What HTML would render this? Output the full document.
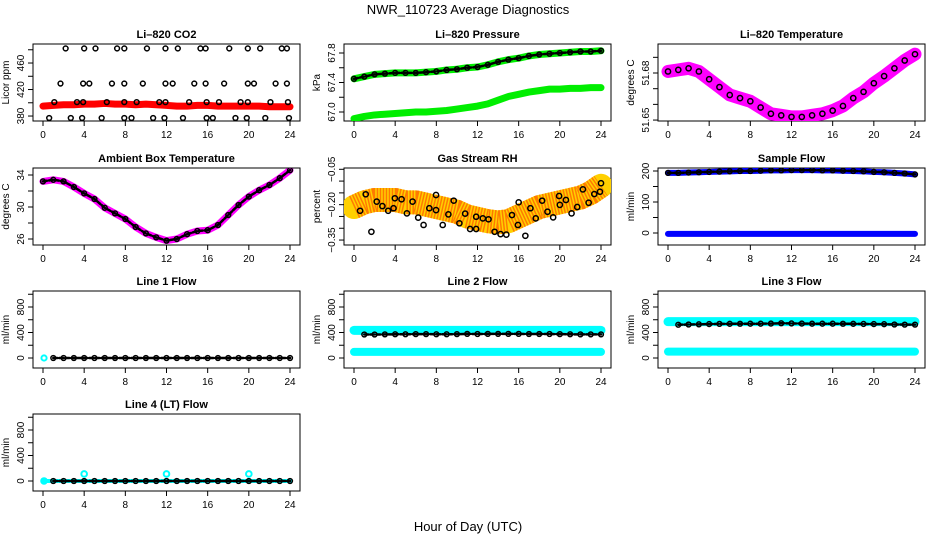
<!DOCTYPE html>
<html><head><meta charset="utf-8">
<style>
html,body{margin:0;padding:0;background:#fff;}
svg{display:block;font-family:"Liberation Sans",sans-serif;}
</style></head>
<body>
<svg id="fig" width="936" height="540" viewBox="0 0 936 540">
<text x="468" y="14" text-anchor="middle" font-size="13">NWR_110723  Average Diagnostics</text>
<text x="468" y="531" text-anchor="middle" font-size="13">Hour of Day (UTC)</text>
</svg>
<script>
const HOURS=[0,1,2,3,4,5,6,7,8,9,10,11,12,13,14,15,16,17,18,19,20,21,22,23,24];
const XTICKS=[0,4,8,12,16,20,24];
const co2Band=[395,396,397,397,398,398,399,398,398,397,398,397,396,395,395,396,396,395,395,395,395,395,394,394,394];
const co2PtHours=[2.2,4.0,5.1,7.2,7.9,10.1,11.9,13.1,15.3,15.8,18.1,19.9,21.1,23.2,23.7,
1.7,3.9,4.5,6.7,7.9,9.7,11.9,12.6,14.7,15.8,17.6,19.9,20.5,22.6,23.7,
1.1,3.3,3.9,6.2,7.9,9.1,11.3,11.9,14.2,15.9,17.1,19.2,19.9,22.1,23.8,
0.6,2.7,3.8,5.7,7.9,8.6,10.7,11.8,13.6,15.9,16.5,18.7,19.8,21.6,23.9];
const co2PtVals=[482,482,482,482,482,482,482,482,482,482,482,482,482,482,482,
429,429,429,429,429,429,429,429,429,429,429,429,429,429,429,
401,401,401,401,401,401,401,401,401,401,401,401,401,401,401,
377,377,377,377,377,377,377,377,377,377,377,377,377,377,377];
const presUpper=[67.45,67.48,67.51,67.52,67.53,67.53,67.53,67.54,67.55,67.57,67.58,67.6,67.61,67.64,67.68,67.71,67.73,67.76,67.78,67.79,67.8,67.81,67.82,67.82,67.83];
const presLower=[66.91,66.94,66.96,66.97,66.98,66.99,67.0,67.0,67.01,67.02,67.04,67.06,67.08,67.11,67.16,67.21,67.24,67.27,67.29,67.31,67.31,67.32,67.32,67.33,67.33];
const liTemp=[51.681,51.682,51.683,51.681,51.676,51.671,51.666,51.664,51.662,51.658,51.654,51.653,51.652,51.652,51.653,51.654,51.656,51.659,51.664,51.668,51.6735,51.678,51.683,51.688,51.692];
const ambTemp=[33.2,33.4,33.2,32.5,31.7,31.0,29.9,29.2,28.5,27.5,26.7,26.2,25.8,26.0,26.6,27.0,27.1,27.75,29.0,30.25,31.3,32.1,32.75,33.6,34.6];
const rhBand=[-0.21,-0.19,-0.18,-0.18,-0.18,-0.19,-0.19,-0.2,-0.21,-0.22,-0.23,-0.25,-0.26,-0.27,-0.275,-0.27,-0.25,-0.23,-0.21,-0.2,-0.19,-0.18,-0.17,-0.15,-0.12];
const rhPtHours=[1.14,0.59,1.69,2.21,2.76,3.32,3.84,3.97,4.62,5.14,5.69,6.24,6.76,7.32,7.97,7.97,8.62,9.17,9.69,10.24,10.8,11.28,11.87,11.87,12.52,13.07,13.66,14.24,14.8,15.35,15.93,16.0,16.65,17.14,17.66,18.28,18.8,19.35,19.93,20.0,20.59,21.14,21.69,22.24,22.8,23.35,23.9,24.0];
const rhPtVals=[-0.156,-0.226,-0.315,-0.187,-0.206,-0.226,-0.215,-0.173,-0.177,-0.237,-0.187,-0.255,-0.286,-0.215,-0.159,-0.223,-0.286,-0.241,-0.183,-0.279,-0.238,-0.303,-0.303,-0.251,-0.258,-0.262,-0.315,-0.325,-0.327,-0.244,-0.286,-0.19,-0.332,-0.215,-0.258,-0.183,-0.23,-0.254,-0.163,-0.201,-0.18,-0.237,-0.21,-0.135,-0.192,-0.155,-0.145,-0.109];
const sampleTop=[194,194,195,196,197,198,199,200,200,201,202,202,203,203,203,202,202,201,200,199,197,196,194,192,189];
const sampleBottom=[-3,-3,-3,-3,-3,-3,-3,-3,-3,-3,-3,-3,-3,-3,-3,-3,-3,-3,-3,-3,-3,-3,-3,-3,-3];
const line1Flow=[0,0,0,0,0,0,0,0,0,0,0,0,0,0,0,0,0,0,0,0,0,0,0,0,0];
const line2Upper=[434,434,434,434,434,434,434,434,434,434,434,434,434,434,434,434,434,434,434,434,434,434,434,434,434];
const line2Mean=[370,368,368,370,372,372,375,375,372,372,374,378,376,378,378,378,378,376,376,376,374,372,370,370,370];
const line2Lower=[95,95,95,95,95,95,95,95,95,95,95,95,95,95,95,95,95,95,95,95,95,95,95,95,95];
const line3Upper=[570,570,570,570,570,570,570,570,570,570,570,570,570,570,570,570,570,570,570,570,570,570,570,570,570];
const line3Mean=[520,522,525,528,532,535,536,537,538,538,540,545,542,540,538,538,538,537,536,534,532,530,526,524,524];
const line3Lower=[100,100,100,100,100,100,100,100,100,100,100,100,100,100,100,100,100,100,100,100,100,100,100,100,100];
const line4Flow=[0,0,0,0,0,0,0,0,0,0,0,0,0,0,0,0,0,0,0,0,0,0,0,0,0];
const line4SpikeHours=[0.1,4,12,20];
const line4SpikeVals=[0,110,110,110];

const NS='http://www.w3.org/2000/svg';
const svg=document.getElementById('fig');
const COLS=[33,344,658], ROWS=[44,168,291,414], BW=267, BH=77;
function mk(tag,attrs,parent){const e=document.createElementNS(NS,tag);for(const k in attrs)e.setAttribute(k,attrs[k]);(parent||svg).appendChild(e);return e;}

function panel(col,row,name,title,ylab,ymin,ymax,ticks,labels){
  const L=COLS[col],T=ROWS[row];
  const g=mk('g',{});
  
  
  const fx=h=>L+10+h*(247/24);
  const fy=v=>T+BH-(v-ymin)/(ymax-ymin)*BH;
  const t=mk('text',{x:L+BW/2,y:T-6,'text-anchor':'middle','font-size':11,'font-weight':'bold'},g);
  t.textContent=title;
  
  
  const box=mk('rect',{x:L,y:T,width:BW,height:BH,fill:'none',stroke:'#000','stroke-width':1},g);
  
  
  const xa=mk('g',{},g);
  
  
  XTICKS.forEach(h=>{
    mk('line',{x1:fx(h),x2:fx(h),y1:T+BH,y2:T+BH+5,stroke:'#000'},xa);
    const tx=mk('text',{x:fx(h),y:T+BH+17,'text-anchor':'middle','font-size':10},xa);
    tx.textContent=h;
  });
  const ya=mk('g',{},g);
  
  
  ticks.forEach((v,i)=>{
    const y=fy(v);
    mk('line',{x1:L-5,x2:L,y1:y,y2:y,stroke:'#000'},ya);
    if(labels[i]!==''){
      const tx=mk('text',{x:0,y:0,'text-anchor':'middle','font-size':10,transform:`translate(${L-9},${y}) rotate(-90)`},ya);
      tx.textContent=labels[i];
    }
  });
  const yl=mk('text',{x:0,y:0,'text-anchor':'middle','font-size':10,transform:`translate(${L-24},${T+BH/2}) rotate(-90)`},g);
  yl.textContent=ylab;
  
  
  const clip='clip'+col+row;
  const cp=mk('clipPath',{id:clip},g);mk('rect',{x:L,y:T,width:BW,height:BH},cp);
  const plot=mk('g',{'clip-path':`url(#${clip})`},g);
  return {fx,fy,plot};
}
function band(p,hours,vals,color,w,name){
  const pts=hours.map((h,i)=>p.fx(h)+','+p.fy(vals[i])).join(' ');
  const e=mk('polyline',{points:pts,fill:'none',stroke:color,'stroke-width':w,'stroke-linecap':'round','stroke-linejoin':'round'},p.plot);
  
  
  return e;
}
function dots(p,hours,vals,color,r,name,sw){
  const g=mk('g',{},p.plot);
  
  
  hours.forEach((h,i)=>{
    mk('circle',{cx:p.fx(h),cy:p.fy(vals[i]),r:r,fill:'none',stroke:color,'stroke-width':sw||1.5},g);
  });
}
function denseBlack(p,hours,vals,name){
  const e=band(p,hours,vals,'#000',2.5,name+'-trace');
  e.setAttribute('stroke-dasharray','4 2');
  dots(p,hours,vals,'#000',2.4,name);
}

// CO2
let p=panel(0,0,'co2','Li\u2013820 CO2','Licor ppm',372.5,488.7,[380,400,420,440,460,480],['380','','420','','460','']);
band(p,HOURS,co2Band,'#ff0000',7,'co2-band');
dots(p,co2PtHours,co2PtVals,'#000',2.4,'co2-points');

// Pressure
p=panel(1,0,'pressure','Li\u2013820 Pressure','kPa',66.878,67.922,[67.0,67.2,67.4,67.6,67.8],['67.0','','67.4','','67.8']);
band(p,HOURS,presUpper,'#00ee00',7,'pressure-upper-band');
band(p,HOURS,presLower,'#00ee00',7,'pressure-lower-band');
denseBlack(p,HOURS,presUpper,'pressure-points');

// Li temp
p=panel(2,0,'li-temp','Li\u2013820 Temperature','degrees C',51.6494,51.6985,[51.65,51.66,51.67,51.68,51.69],['51.65','','','51.68','']);
band(p,HOURS,liTemp,'#ff00ff',13,'li-temp-band');
dots(p,HOURS,liTemp,'#000',2.6,'li-temp-points');

// Ambient
p=panel(0,1,'ambient-temp','Ambient Box Temperature','degrees C',25.25,34.875,[26,28,30,32,34],['26','','30','','34']);
band(p,HOURS,ambTemp,'#ff00ff',7,'ambient-band');
denseBlack(p,HOURS,ambTemp,'ambient-points');

// RH
p=panel(1,1,'rh','Gas Stream RH','percent',-0.371,-0.0445,[-0.35,-0.30,-0.25,-0.20,-0.15,-0.10,-0.05],['\u22120.35','','','\u22120.20','','','\u22120.05']);
band(p,HOURS,rhBand,'#ffd000',24,'rh-band');
const rb2=band(p,HOURS,rhBand,'#ff7a00',24,'rh-band-texture');rb2.setAttribute('stroke-dasharray','1.5 1.5');rb2.setAttribute('stroke-linecap','butt');
dots(p,rhPtHours,rhPtVals,'#000',2.6,'rh-points');

// Sample flow
p=panel(2,1,'sample-flow','Sample Flow','ml/min',-38.7,209.7,[0,50,100,150,200],['0','','100','','200']);
band(p,HOURS,sampleTop,'#0000ff',6,'sample-flow-top-band');
band(p,HOURS,sampleBottom,'#0000ff',6,'sample-flow-bottom-band');
denseBlack(p,HOURS,sampleTop,'sample-flow-points');

const FT=[0,200,400,600,800,1000], FL=['0','','400','','800',''];
// Line 1
p=panel(0,2,'line1-flow','Line 1 Flow','ml/min',-157,1051,FT,FL);
denseBlack(p,HOURS.slice(1),line1Flow.slice(1),'line1-points');
dots(p,[0.1],[0],'#00ffff',2.6,'line1-cyan-point',2);
// Line 2
p=panel(1,2,'line2-flow','Line 2 Flow','ml/min',-157,1051,FT,FL);
band(p,HOURS,line2Upper,'#00ffff',9,'line2-upper-band');
band(p,HOURS,line2Lower,'#00ffff',8,'line2-lower-band');
denseBlack(p,HOURS.slice(1),line2Mean.slice(1),'line2-points');
// Line 3
p=panel(2,2,'line3-flow','Line 3 Flow','ml/min',-157,1051,FT,FL);
band(p,HOURS,line3Upper,'#00ffff',9,'line3-upper-band');
band(p,HOURS,line3Lower,'#00ffff',8,'line3-lower-band');
denseBlack(p,HOURS.slice(1),line3Mean.slice(1),'line3-points');
// Line 4
p=panel(0,3,'line4-flow','Line 4 (LT) Flow','ml/min',-157,1051,FT,FL);
band(p,HOURS,line4Flow,'#00ffff',4,'line4-band');
denseBlack(p,HOURS.slice(1),line4Flow.slice(1),'line4-points');
dots(p,line4SpikeHours,line4SpikeVals,'#00ffff',2.8,'line4-cyan-points',2);
</script>
</body></html>
